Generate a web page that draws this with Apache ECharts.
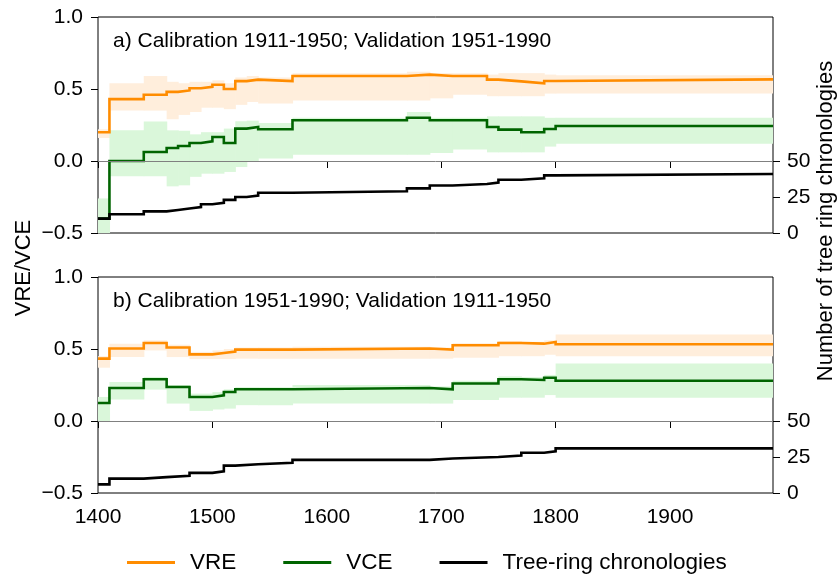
<!DOCTYPE html>
<html>
<head>
<meta charset="utf-8">
<script src="https://cdn.jsdelivr.net/npm/echarts@6/dist/echarts.min.js"></script>
<style>html,body{margin:0;padding:0;background:#fff;}#chart{width:840px;height:578px;}</style>
</head>
<body>
<div id="chart"></div>
<script>
// ---------- data ----------
const xTicks = [1400, 1500, 1600, 1700, 1800, 1900];
const countTicks = [0, 25, 50];

// Panel a: Calibration 1911-1950; Validation 1951-1990
const yearsA = [1400,1410,1440,1460,1470,1480,1490,1500,1510,1520,1530,1540,1570,1670,1690,1710,1740,1750,1770,1790,1800,1990];
const vreA   = [0.20,0.43,0.46,0.48,0.49,0.505,0.515,0.53,0.50,0.555,0.565,0.555,0.59,0.60,0.59,0.59,0.565,0.553,0.54,0.556,0.567,0.567];
const vceA   = [-0.40,0.0,0.063,0.09,0.104,0.125,0.137,0.167,0.125,0.225,0.236,0.22,0.283,0.30,0.283,0.283,0.236,0.218,0.20,0.222,0.243,0.243];
const countA = [10,13,15,16,17,18,20,21,23,25,26,28,29,31,33,34,35,37,38,40,41,41];
const vreLoA = [0.16,0.35,0.35,0.29,0.32,0.34,0.37,0.37,0.36,0.39,0.41,0.40,0.42,0.42,0.435,0.46,0.45,0.45,0.45,0.468,0.468];
const vreHiA = [0.22,0.54,0.59,0.55,0.54,0.55,0.55,0.56,0.54,0.58,0.59,0.58,0.61,0.62,0.61,0.61,0.60,0.61,0.61,0.60,0.595];
const vceLoA = [-0.5,-0.106,-0.106,-0.176,-0.169,-0.11,-0.088,-0.088,-0.076,-0.042,-0.007,0.017,0.044,0.044,0.055,0.08,0.06,0.06,0.06,0.10,0.12];
const vceHiA = [-0.26,0.213,0.275,0.213,0.21,0.185,0.20,0.20,0.225,0.276,0.28,0.264,0.30,0.34,0.30,0.30,0.31,0.31,0.31,0.30,0.30];

// Panel b: Calibration 1951-1990; Validation 1911-1950
const yearsB = [1400,1410,1440,1460,1480,1500,1510,1520,1540,1570,1690,1710,1750,1770,1790,1800,1990];
const vreB   = [0.433,0.503,0.542,0.51,0.463,0.472,0.482,0.496,0.496,0.503,0.496,0.526,0.542,0.537,0.549,0.533,0.533];
const vceB   = [0.125,0.229,0.29,0.236,0.167,0.178,0.201,0.22,0.22,0.229,0.22,0.26,0.29,0.285,0.30,0.28,0.28];
const countB = [6,10,11,12,14,15,19,20,21,23,24,25,26,28,29,31,31];
const vreLoB = [0.37,0.444,0.49,0.444,0.43,0.43,0.43,0.433,0.433,0.433,0.433,0.44,0.45,0.45,0.46,0.45];
const vreHiB = [0.45,0.537,0.56,0.53,0.48,0.49,0.50,0.51,0.51,0.515,0.51,0.54,0.555,0.55,0.56,0.60];
const vceLoB = [0.0,0.149,0.218,0.121,0.07,0.08,0.086,0.11,0.11,0.121,0.121,0.146,0.162,0.162,0.18,0.162];
const vceHiB = [0.167,0.271,0.306,0.25,0.19,0.20,0.22,0.235,0.235,0.25,0.24,0.28,0.31,0.305,0.32,0.40];

const titleA = 'a) Calibration 1911-1950; Validation 1951-1990';
const titleB = 'b) Calibration 1951-1990; Validation 1911-1950';

// ---------- styles ----------
const FONT = '"Liberation Sans", Arial, sans-serif';
const ORANGE = '#ff8c00', GREEN = '#006400', BLACK = '#000000';
const ORANGE_BAND = '#ffeedc', GREEN_BAND = '#daf7da';

function pairs(xs, ys) { return xs.map((x, i) => [x, ys[i]]); }
function bands(xs, lo, hi) {
  const out = [];
  for (let i = 0; i < lo.length; i++) out.push([xs[i], xs[i + 1], lo[i], hi[i]]);
  return out;
}
function bandSeries(data, color, xi, yi) {
  return {
    type: 'custom', xAxisIndex: xi, yAxisIndex: yi, z: 1, silent: true, clip: true,
    encode: { x: [0, 1], y: [2, 3] },
    data: data,
    renderItem: function (params, api) {
      const p0 = api.coord([api.value(0), api.value(3)]);
      const p1 = api.coord([api.value(1), api.value(2)]);
      return {
        type: 'rect',
        shape: { x: p0[0], y: p0[1], width: p1[0] - p0[0] + 0.6, height: p1[1] - p0[1] },
        style: { fill: color }
      };
    }
  };
}
function lineSeries(name, data, color, xi, yi, extra) {
  return Object.assign({
    name: name, type: 'line', step: 'end', xAxisIndex: xi, yAxisIndex: yi,
    data: data, showSymbol: false, symbol: 'none', z: 3, silent: true,
    lineStyle: { color: color, width: 2.6, join: 'miter', cap: 'butt' }, itemStyle: { color: color }
  }, extra || {});
}
const zeroLine = {
  silent: true, symbol: 'none', label: { show: false },
  lineStyle: { color: '#808080', width: 1, type: 'solid' },
  data: [{ yAxis: 0 }]
};

const axisText = { color: '#000', fontFamily: FONT, fontSize: 21 };
function xAxis(gi, showLabels) {
  return {
    type: 'value', gridIndex: gi, min: 1400, max: 1990,
    axisLine: { show: false },
    axisTick: { show: true, length: 7, customValues: xTicks, lineStyle: { color: '#000' } },
    axisLabel: Object.assign({ show: showLabels, margin: 14, customValues: xTicks, formatter: v => String(v) }, axisText),
    splitLine: { show: false }
  };
}
function yLeft(gi) {
  return {
    type: 'value', gridIndex: gi, min: -0.5, max: 1.0, interval: 0.5, position: 'left',
    axisLine: { show: false },
    axisTick: { show: true, length: 7, lineStyle: { color: '#000' } },
    axisLabel: Object.assign({ margin: 15, formatter: v => (v < 0 ? '\u2212' : '') + Math.abs(v).toFixed(1) }, axisText),
    splitLine: { show: false }
  };
}
function yRight(gi) {
  return {
    type: 'value', gridIndex: gi, min: 0, max: 150, position: 'right',
    axisLine: { show: false },
    axisTick: { show: true, length: 7, customValues: countTicks, lineStyle: { color: '#000' } },
    axisLabel: Object.assign({ margin: 14, customValues: countTicks, formatter: v => String(v) }, axisText),
    splitLine: { show: false }
  };
}

const chart = echarts.init(document.getElementById('chart'), null, { renderer: 'canvas' });
chart.setOption({
  animation: false,
  backgroundColor: '#fff',
  grid: [
    { left: 98, top: 17, width: 675, height: 216, show: true, borderColor: '#000', borderWidth: 1, backgroundColor: 'transparent' },
    { left: 98, top: 277, width: 675, height: 216, show: true, borderColor: '#000', borderWidth: 1, backgroundColor: 'transparent' }
  ],
  xAxis: [xAxis(0, false), xAxis(1, true)],
  yAxis: [yLeft(0), yRight(0), yLeft(1), yRight(1)],
  legend: {
    left: 127, top: 551, padding: 0, itemWidth: 48, itemHeight: 3, itemGap: 47, icon: 'rect',
    textStyle: { color: '#000', fontFamily: FONT, fontSize: 22.5, padding: [0, 0, 0, 10] },
    data: ['VRE', 'VCE', 'Tree-ring chronologies']
  },
  graphic: [
    { type: 'text', left: 113, top: 31, style: { text: titleA, fill: '#000', font: '21px ' + FONT } },
    { type: 'text', left: 113, top: 291, style: { text: titleB, fill: '#000', font: '21px ' + FONT } },
    { type: 'text', x: 24, y: 268, rotation: Math.PI / 2,
      style: { text: 'VRE/VCE', fill: '#000', font: '22px ' + FONT, align: 'center', verticalAlign: 'middle' } },
    { type: 'text', x: 826, y: 221, rotation: Math.PI / 2,
      style: { text: 'Number of tree ring chronologies', fill: '#000', font: '22px ' + FONT, align: 'center', verticalAlign: 'middle' } }
  ],
  series: [
    bandSeries(bands(yearsA, vreLoA, vreHiA), ORANGE_BAND, 0, 0),
    bandSeries(bands(yearsA, vceLoA, vceHiA), GREEN_BAND, 0, 0),
    lineSeries('VRE', pairs(yearsA, vreA), ORANGE, 0, 0, { markLine: zeroLine }),
    lineSeries('VCE', pairs(yearsA, vceA), GREEN, 0, 0),
    lineSeries('Tree-ring chronologies', pairs(yearsA, countA), BLACK, 0, 1),

    bandSeries(bands(yearsB, vreLoB, vreHiB), ORANGE_BAND, 1, 2),
    bandSeries(bands(yearsB, vceLoB, vceHiB), GREEN_BAND, 1, 2),
    lineSeries('VRE', pairs(yearsB, vreB), ORANGE, 1, 2, { markLine: zeroLine }),
    lineSeries('VCE', pairs(yearsB, vceB), GREEN, 1, 2),
    lineSeries('Tree-ring chronologies', pairs(yearsB, countB), BLACK, 1, 3)
  ]
});
</script>
</body>
</html>
